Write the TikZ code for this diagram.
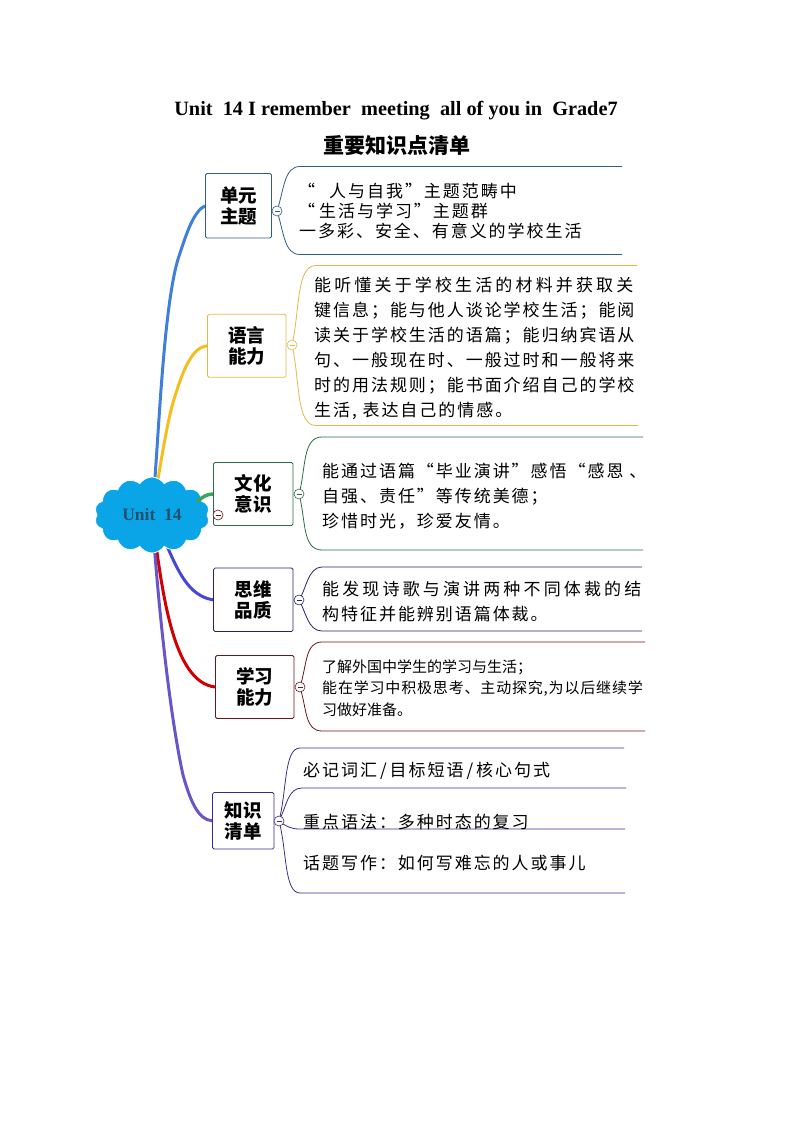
\documentclass[tikz,border=0pt]{standalone}
\usepackage{fontspec}
\setmainfont{Liberation Serif}
\newfontfamily\cjk{Noto Sans CJK SC}
\newfontfamily\cjkmid[LetterSpace=11.5]{Noto Sans CJK SC}
\newfontfamily\cjkwide[LetterSpace=18.5]{Noto Sans CJK SC}
\newfontfamily\cjknar[LetterSpace=5.5]{Noto Sans CJK SC}
\usetikzlibrary{shapes.symbols,backgrounds}
\definecolor{cblue}{HTML}{3F7FD8}
\definecolor{cyellow}{HTML}{F5BE1E}
\definecolor{cgreen}{HTML}{3DA35D}
\definecolor{cindigo}{HTML}{4646D8}
\definecolor{cred}{HTML}{D00000}
\definecolor{cpurple}{HTML}{6A55C8}
\definecolor{cloudblue}{HTML}{0AA5E6}
\definecolor{cloudtext}{HTML}{24506E}
\definecolor{eblue}{HTML}{2F5D8A}
\definecolor{eyellow}{HTML}{E0B94A}
\definecolor{egreen}{HTML}{2E6B46}
\definecolor{eindigo}{HTML}{24246E}
\definecolor{ered}{HTML}{6E1515}
\definecolor{epurple}{HTML}{3A2D8A}
\tikzset{
  topic/.style={draw=#1,rounded corners=1.5pt,line width=0.8pt,align=center,inner sep=0pt,
    font=\cjk\bfseries\fontsize{18.5}{21}\selectfont},
  branch/.style={draw=#1,line width=3pt},
  bracket/.style={draw=#1,line width=0.8pt},
  btn/.style={circle,draw=#1,fill=white,line width=0.6pt,minimum size=10pt,inner sep=0pt,
    path picture={\draw[#1,line width=0.7pt] ([xshift=2.5pt]path picture bounding box.west) -- ([xshift=-2.5pt]path picture bounding box.east);}},
  body/.style={anchor=west,align=left,inner sep=0pt,font=\cjkmid\fontsize{17}{25}\selectfont},
  single/.style={anchor=west,inner sep=0pt,font=\cjkmid\fontsize{17}{20}\selectfont}
}
\begin{document}
\begin{tikzpicture}[x=1pt,y=-1pt]
    \useasboundingbox (0,0) rectangle (794,1123);
    \node[font=\bfseries\fontsize{20.3}{24}\selectfont] (title) at (396,111) {Unit\ \ 14 I remember\ \ meeting\ \ all of you in\ \ Grade7};
    \node[font=\cjk\bfseries\fontsize{21}{24}\selectfont] (subtitle) at (397,146) {重要知识点清单};

    \node[cloud,cloud puffs=14,cloud puff arc=115,aspect=1.5,draw=white,line width=0.8pt,fill=cloudblue,
      minimum width=115pt,minimum height=76pt,inner sep=0pt,text=cloudtext,
      font=\bfseries\fontsize{17.5}{18}\selectfont] (root) at (152,515) {Unit\ \ 14};
    \coordinate (rootedge) at (197,502);

    \node[topic=eblue,minimum width=66pt,minimum height=64.5pt] (theme) at (238.5,205.8) {单元\\主题};
    \node[topic=eyellow,minimum width=78.5pt,minimum height=63pt] (lang) at (246.8,345.8) {语言\\能力};
    \node[topic=egreen,minimum width=79.5pt,minimum height=63pt] (culture) at (253.3,494) {文化\\意识};
    \node[topic=eindigo,minimum width=79.5pt,minimum height=63.5pt] (mind) at (253.3,599.8) {思维\\品质};
    \node[topic=ered,minimum width=78.5pt,minimum height=63pt] (study) at (254.8,687) {学习\\能力};
    \node[topic=epurple,minimum width=61.5pt,minimum height=56.5pt] (know) at (243.3,820.8) {知识\\清单};

    \draw[branch=cgreen,line width=3.5pt] (rootedge) .. controls (202,497) and (207,494) .. (culture.west);

    \node[btn=ered] (rootbtn) at (218,515) {};
    \node[btn=eblue] (b1) at (277,211) {};
    \node[btn=eyellow] (b2) at (292,345) {};
    \node[btn=egreen] (b3) at (299,494) {};
    \node[btn=eindigo] (b4) at (299,600) {};
    \node[btn=ered] (b5) at (300,687) {};
    \node[btn=epurple] (b6) at (279,821) {};

    \coordinate (t1) at (622,166.5);
    \coordinate (u1) at (622,254.5);
    \coordinate (t2) at (637,265.5);
    \coordinate (u2) at (638,425.5);
    \coordinate (t3) at (643,437);
    \coordinate (u3) at (643,550);
    \coordinate (t4) at (642,567);
    \coordinate (u4) at (642,631);
    \coordinate (t5) at (645,642);
    \coordinate (u5) at (645,731);
    \coordinate (t6) at (624,748);
    \coordinate (t7) at (626,788);
    \coordinate (t8) at (625,829);
    \coordinate (u6) at (625,893);

    \begin{scope}[on background layer]
      \draw[branch=cblue] (root.center) .. controls (159,440) and (163,300) .. (180,253) .. controls (187,232) and (194,211) .. (theme.west);
      \draw[branch=cyellow] (root.center) .. controls (163,450) and (168,415) .. (177,390) .. controls (184,368) and (193,347) .. (lang.west);
      \draw[branch=cindigo] (root.center) .. controls (172,550) and (180,595) .. (mind.west);
      \draw[branch=cred] (root.center) .. controls (162,590) and (172,682) .. (study.west);
      \draw[branch=cpurple] (root.center) .. controls (160,630) and (172,725) .. (183,775) .. controls (190,800) and (198,820) .. (know.west);
      \draw[bracket=eblue] (b1.center) .. controls (284,190) and (284,166.5) .. (300,166.5) -- (t1);
      \draw[bracket=eblue] (b1.center) .. controls (284,232) and (284,254.5) .. (300,254.5) -- (u1);
      \draw[bracket=eyellow] (b2.center) .. controls (300,310) and (296,265.5) .. (316,265.5) -- (t2);
      \draw[bracket=eyellow] (b2.center) .. controls (300,380) and (296,425.5) .. (316,425.5) -- (u2);
      \draw[bracket=egreen] (b3.center) .. controls (306,470) and (302,437) .. (322,437) -- (t3);
      \draw[bracket=egreen] (b3.center) .. controls (306,520) and (302,550) .. (322,550) -- (u3);
      \draw[bracket=eindigo] (b4.center) .. controls (306,590) and (308,567) .. (322,567) -- (t4);
      \draw[bracket=eindigo] (b4.center) .. controls (306,612) and (308,631) .. (322,631) -- (u4);
      \draw[bracket=ered] (b5.center) .. controls (307,665) and (305,642) .. (322,642) -- (t5);
      \draw[bracket=ered] (b5.center) .. controls (307,710) and (305,731) .. (322,731) -- (u5);
      \draw[bracket=epurple] (b6.center) .. controls (287,790) and (284,748) .. (300,748) -- (t6);
      \draw[bracket=epurple] (b6.center) .. controls (287,805) and (288,788) .. (302,788) -- (t7);
      \draw[bracket=epurple] (b6.center) .. controls (286,826) and (290,829) .. (300,829) -- (t8);
      \draw[bracket=epurple] (b6.center) .. controls (287,850) and (284,893) .. (300,893) -- (u6);
    \end{scope}

    \node[body,font=\cjkmid\fontsize{17}{20}\selectfont] (themetext) at (299,211) {\hspace*{-1pt}“\hspace{14pt}人与自我”主题范畴中\\\hspace*{-1pt}“\hspace{4pt}生活与学习”主题群\\一多彩、安全、有意义的学校生活};
    \node[body] (langtext) at (314,348) {{\cjkwide 能听懂关于学校生活的材料并获取关}\\键信息；能与他人谈论学校生活；能阅\\读关于学校生活的语篇；能归纳宾语从\\句、一般现在时、一般过时和一般将来\\时的用法规则；能书面介绍自己的学校\\生活, 表达自己的情感。};
    \node[body] (culturetext) at (322,496.5) {能通过语篇“毕业演讲”感悟“感恩 、\\自强、责任”等传统美德；\\珍惜时光，珍爱友情。};
    \node[body] (mindtext) at (322,602) {{\cjkwide 能发现诗歌与演讲两种不同体裁的结}\\构特征并能辨别语篇体裁。};
    \node[body,font=\cjk\fontsize{15}{21.5}\selectfont] (studytext) at (322,688) {了解外国中学生的学习与生活；\\{\cjknar 能在学习中积极思考、主动探究,为以后继续学}\\习做好准备。};
    \node[single] (knowa) at (303,770.5) {必记词汇\hspace{3pt}/\hspace{3pt}目标短语\hspace{3pt}/\hspace{3pt}核心句式};
    \node[single] (knowb) at (303,822) {重点语法：多种时态的复习};
    \node[single] (knowc) at (303,863) {话题写作：如何写难忘的人或事儿};
\end{tikzpicture}
\end{document}
